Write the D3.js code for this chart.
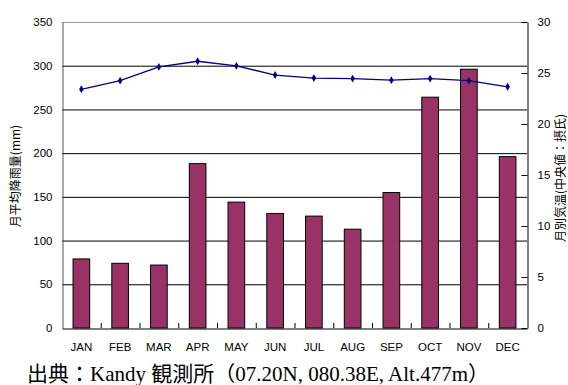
<!DOCTYPE html>
<html>
<head>
<meta charset="utf-8">
<script src="https://cdn.jsdelivr.net/npm/d3@7"></script>
<style>
body { margin: 0; background: #fff; }
svg { display: block; }
</style>
</head>
<body>
<script>
// 月別データ (Kandy)
let months = ["JAN", "FEB", "MAR", "APR", "MAY", "JUN", "JUL", "AUG", "SEP", "OCT", "NOV", "DEC"]
let rain = [79, 74, 72, 188, 144, 131, 128, 113, 155, 264, 296, 196]
let temp = [23.4, 24.25, 25.6, 26.15, 25.7, 24.8, 24.5, 24.45, 24.3, 24.45, 24.25, 23.65]
let rainTicks = [0, 50, 100, 150, 200, 250, 300, 350]
let tempTicks = [0, 5, 10, 15, 20, 25, 30]

let w = 568
let h = 385
let m = {left: 62, right: 527, top: 22, bottom: 328}

let svg = d3.select("body").append("svg")
    .attr("width", w)
    .attr("height", h)

let x = d3.scaleBand()
    .domain(months)
    .range([m.left, m.right])

let yL = d3.scaleLinear().domain([0, 350]).range([m.bottom, m.top])
let yR = d3.scaleLinear().domain([0, 30]).range([m.bottom, m.top])

let font = "'Liberation Sans', Arial, sans-serif"

// グリッド線
svg.append("g").selectAll("line")
    .data(rainTicks.filter(d => d > 0 && d < 350))
    .enter()
    .append("line")
        .attr("x1", m.left)
        .attr("x2", m.right)
        .attr("y1", d => yL(d) + 0.5)
        .attr("y2", d => yL(d) + 0.5)
        .style("stroke", "#000")
        .style("stroke-width", 1)

// 上枠
svg.append("line")
    .attr("x1", m.left).attr("x2", m.right)
    .attr("y1", m.top + 0.5).attr("y2", m.top + 0.5)
    .style("stroke", "#999")

// 棒グラフ
let bw = x.bandwidth() * 0.43
svg.append("g").selectAll("rect")
    .data(months)
    .enter()
    .append("rect")
        .attr("x", (d, i) => x(d) + (x.bandwidth() - bw) / 2)
        .attr("y", (d, i) => yL(rain[i]))
        .attr("width", bw)
        .attr("height", (d, i) => yL(0) - yL(rain[i]))
        .style("fill", "#993366")
        .style("stroke", "#000")
        .style("stroke-width", 1)

// 左軸
let axL = svg.append("g")
    .attr("transform", `translate(${m.left + 0.5},0)`)
    .call(d3.axisLeft(yL).tickValues(rainTicks).tickSize(0).tickPadding(10))
axL.select(".domain").style("stroke", "#555")
axL.selectAll("text").style("font", `11.5px ${font}`).style("fill", "#000")

// 右軸
let axR = svg.append("g")
    .attr("transform", `translate(${m.right + 0.5},0)`)
    .call(d3.axisRight(yR).tickValues(tempTicks).tickSizeInner(-6).tickSizeOuter(0).tickPadding(10))
axR.select(".domain").style("stroke", "#000")
axR.selectAll("line").style("stroke", "#000")
axR.selectAll("text").style("font", `11.5px ${font}`).style("fill", "#000")

// 下軸
let axB = svg.append("g")
    .attr("transform", `translate(0,${m.bottom + 0.5})`)
    .call(d3.axisBottom(x).tickSize(0).tickPadding(14))
axB.select(".domain").style("stroke", "#000")
axB.selectAll("text").style("font", `11.5px ${font}`).style("fill", "#000")

// 区切り目盛り (内向き)
svg.append("g").selectAll("line")
    .data(months.slice(1))
    .enter()
    .append("line")
        .attr("x1", d => x(d) + 0.5)
        .attr("x2", d => x(d) + 0.5)
        .attr("y1", m.bottom)
        .attr("y2", m.bottom - 5)
        .style("stroke", "#000")

// 気温の折れ線
let line = d3.line()
    .x((d, i) => x(months[i]) + x.bandwidth() / 2)
    .y(d => yR(d))
svg.append("path")
    .datum(temp)
    .attr("d", line)
    .style("fill", "none")
    .style("stroke", "#000080")
    .style("stroke-width", 1.3)

svg.append("g").selectAll("path")
    .data(temp)
    .enter()
    .append("path")
        .attr("d", d3.symbol().type(d3.symbolDiamond).size(18))
        .attr("transform", (d, i) => `translate(${x(months[i]) + x.bandwidth() / 2},${yR(d)})`)
        .style("fill", "#000080")

// 軸タイトル
let jp = "'Noto Sans CJK JP', 'Liberation Sans', sans-serif"
svg.append("text")
    .text("月平均降雨量(mm)")
    .attr("transform", "translate(20,176) rotate(-90)")
    .attr("text-anchor", "middle")
    .style("font", `12px ${jp}`)

svg.append("text")
    .text("月別気温(中央値：摂氏)")
    .attr("transform", "translate(565,178) rotate(-90)")
    .attr("text-anchor", "middle")
    .style("font", `12px ${jp}`)

// 出典
svg.append("text")
    .attr("x", 27)
    .attr("y", 381)
    .style("font", "21px 'Liberation Serif', 'Noto Sans CJK JP', serif")
    .text("出典：Kandy 観測所（07.20N, 080.38E, Alt.477m）")
</script>
</body>
</html>
